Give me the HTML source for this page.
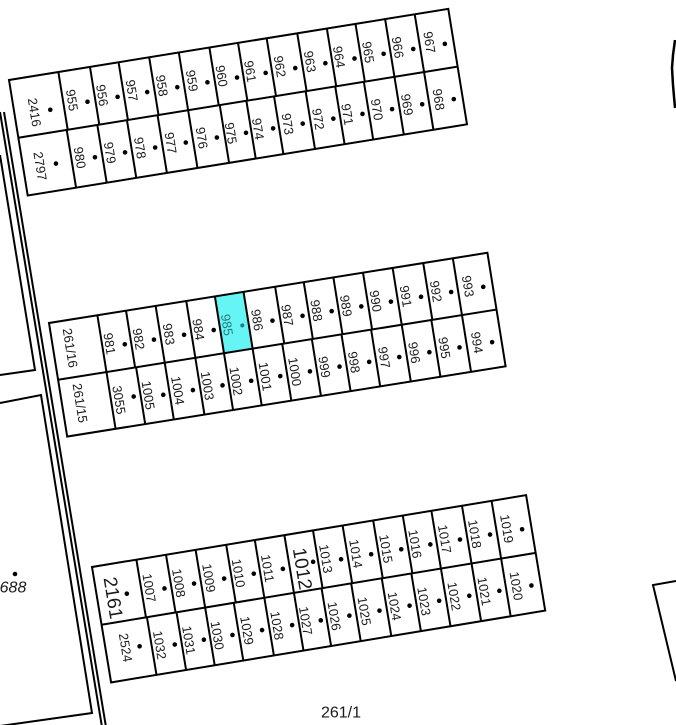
<!DOCTYPE html>
<html><head><meta charset="utf-8"><style>
html,body{margin:0;padding:0;background:#fff;}
svg{display:block;}
text{font-family:"Liberation Sans",Arial,sans-serif;font-size:13px;fill:#1a1a1a;text-anchor:middle;dominant-baseline:central;}
.c line,.c rect{stroke:#000;stroke-width:2;fill:none;}
.d{fill:#000;}
circle.d{r:2.3px;}
</style></head><body>
<svg width="676" height="725" viewBox="0 0 676 725" xmlns="http://www.w3.org/2000/svg">
<g fill="none" stroke="#000" stroke-width="2">
<polyline points="0,155 35,370 0,375"/>
<polyline points="0,403 41,395 92,713 0,726"/>
<line x1="0" y1="112" x2="102" y2="727"/>
<line x1="4" y1="112" x2="106" y2="727"/>
<path d="M675,40 L673,55 L672,68 L673,85 L675,108" stroke-width="2.5"/>
<polyline points="676,581 653,585 676,681"/>
</g>
<circle class="d" cx="15" cy="574" r="2"/>
<text x="13" y="588" style="font-size:16px;font-style:italic">688</text>
<text x="341" y="713" style="font-size:16px">261/1</text>

<!-- TOP BLOCK -->
<g class="c" transform="translate(9,80) rotate(-9.2)">
<rect x="0" y="0" width="445" height="117"/>
<line x1="0" y1="58.5" x2="445" y2="58.5"/>
<line x1="50" y1="0" x2="50" y2="58.5"/><line x1="82" y1="0" x2="82" y2="58.5"/><line x1="111" y1="0" x2="111" y2="58.5"/><line x1="142" y1="0" x2="142" y2="58.5"/><line x1="172" y1="0" x2="172" y2="58.5"/><line x1="203" y1="0" x2="203" y2="58.5"/><line x1="232" y1="0" x2="232" y2="58.5"/><line x1="261" y1="0" x2="261" y2="58.5"/><line x1="292" y1="0" x2="292" y2="58.5"/><line x1="322" y1="0" x2="322" y2="58.5"/><line x1="351" y1="0" x2="351" y2="58.5"/><line x1="381" y1="0" x2="381" y2="58.5"/><line x1="411" y1="0" x2="411" y2="58.5"/>
<line x1="49" y1="58.5" x2="49" y2="117"/><line x1="80" y1="58.5" x2="80" y2="117"/><line x1="110" y1="58.5" x2="110" y2="117"/><line x1="141" y1="58.5" x2="141" y2="117"/><line x1="172" y1="58.5" x2="172" y2="117"/><line x1="204" y1="58.5" x2="204" y2="117"/><line x1="231" y1="58.5" x2="231" y2="117"/><line x1="259" y1="58.5" x2="259" y2="117"/><line x1="291" y1="58.5" x2="291" y2="117"/><line x1="321" y1="58.5" x2="321" y2="117"/><line x1="350" y1="58.5" x2="350" y2="117"/><line x1="381" y1="58.5" x2="381" y2="117"/><line x1="411" y1="58.5" x2="411" y2="117"/>
<text x="20" y="36" transform="rotate(90 20 36)">2416</text><circle class="d" cx="36" cy="36" r="2"/>
<text x="59" y="30" transform="rotate(90 59 30)">955</text><circle class="d" cx="74" cy="34" r="2"/>
<text x="89.5" y="30" transform="rotate(90 89.5 30)">956</text><circle class="d" cx="104.5" cy="34" r="2"/>
<text x="119.5" y="30" transform="rotate(90 119.5 30)">957</text><circle class="d" cx="134.5" cy="34" r="2"/>
<text x="150" y="30" transform="rotate(90 150 30)">958</text><circle class="d" cx="165" cy="34" r="2"/>
<text x="180.5" y="30" transform="rotate(90 180.5 30)">959</text><circle class="d" cx="195.5" cy="34" r="2"/>
<text x="210.5" y="30" transform="rotate(90 210.5 30)">960</text><circle class="d" cx="225.5" cy="34" r="2"/>
<text x="239.5" y="30" transform="rotate(90 239.5 30)">961</text><circle class="d" cx="254.5" cy="34" r="2"/>
<text x="269.5" y="30" transform="rotate(90 269.5 30)">962</text><circle class="d" cx="284.5" cy="34" r="2"/>
<text x="300" y="30" transform="rotate(90 300 30)">963</text><circle class="d" cx="315" cy="34" r="2"/>
<text x="329.5" y="30" transform="rotate(90 329.5 30)">964</text><circle class="d" cx="344.5" cy="34" r="2"/>
<text x="359" y="30" transform="rotate(90 359 30)">965</text><circle class="d" cx="374" cy="34" r="2"/>
<text x="389" y="30" transform="rotate(90 389 30)">966</text><circle class="d" cx="404" cy="34" r="2"/>
<text x="421" y="30" transform="rotate(90 421 30)">967</text><circle class="d" cx="436" cy="34" r="2"/>
<text x="17" y="90" transform="rotate(90 17 90)">2797</text><circle class="d" cx="33" cy="90" r="2"/>
<text x="57.5" y="88" transform="rotate(90 57.5 88)">980</text><circle class="d" cx="72.5" cy="90" r="2"/>
<text x="88" y="88" transform="rotate(90 88 88)">979</text><circle class="d" cx="103" cy="90" r="2"/>
<text x="118.5" y="88" transform="rotate(90 118.5 88)">978</text><circle class="d" cx="133.5" cy="90" r="2"/>
<text x="149.5" y="88" transform="rotate(90 149.5 88)">977</text><circle class="d" cx="164.5" cy="90" r="2"/>
<text x="181" y="88" transform="rotate(90 181 88)">976</text><circle class="d" cx="196" cy="90" r="2"/>
<text x="210.5" y="88" transform="rotate(90 210.5 88)">975</text><circle class="d" cx="225.5" cy="90" r="2"/>
<text x="238" y="88" transform="rotate(90 238 88)">974</text><circle class="d" cx="253" cy="90" r="2"/>
<text x="268" y="88" transform="rotate(90 268 88)">973</text><circle class="d" cx="283" cy="90" r="2"/>
<text x="299" y="88" transform="rotate(90 299 88)">972</text><circle class="d" cx="314" cy="90" r="2"/>
<text x="328.5" y="88" transform="rotate(90 328.5 88)">971</text><circle class="d" cx="343.5" cy="90" r="2"/>
<text x="358.5" y="88" transform="rotate(90 358.5 88)">970</text><circle class="d" cx="373.5" cy="90" r="2"/>
<text x="389" y="88" transform="rotate(90 389 88)">969</text><circle class="d" cx="404" cy="90" r="2"/>
<text x="421" y="88" transform="rotate(90 421 88)">968</text><circle class="d" cx="436" cy="90" r="2"/>
</g>

<!-- MIDDLE BLOCK -->
<g class="c" transform="translate(49,323) rotate(-9.1)">
<rect x="168" y="0" width="29" height="57.5" style="fill:#66f5f5;stroke:none"/>
<rect x="0" y="0" width="444" height="115"/>
<line x1="0" y1="57.5" x2="444" y2="57.5"/>
<line x1="49" y1="0" x2="49" y2="57.5"/><line x1="78" y1="0" x2="78" y2="57.5"/><line x1="108" y1="0" x2="108" y2="57.5"/><line x1="139" y1="0" x2="139" y2="57.5"/><line x1="168" y1="0" x2="168" y2="57.5"/><line x1="197" y1="0" x2="197" y2="57.5"/><line x1="229" y1="0" x2="229" y2="57.5"/><line x1="258" y1="0" x2="258" y2="57.5"/><line x1="288" y1="0" x2="288" y2="57.5"/><line x1="318" y1="0" x2="318" y2="57.5"/><line x1="348" y1="0" x2="348" y2="57.5"/><line x1="379" y1="0" x2="379" y2="57.5"/><line x1="409" y1="0" x2="409" y2="57.5"/>
<line x1="49" y1="57.5" x2="49" y2="115"/><line x1="79" y1="57.5" x2="79" y2="115"/><line x1="108" y1="57.5" x2="108" y2="115"/><line x1="139" y1="57.5" x2="139" y2="115"/><line x1="168" y1="57.5" x2="168" y2="115"/><line x1="197" y1="57.5" x2="197" y2="115"/><line x1="227" y1="57.5" x2="227" y2="115"/><line x1="257" y1="57.5" x2="257" y2="115"/><line x1="287" y1="57.5" x2="287" y2="115"/><line x1="317" y1="57.5" x2="317" y2="115"/><line x1="348" y1="57.5" x2="348" y2="115"/><line x1="378" y1="57.5" x2="378" y2="115"/><line x1="409" y1="57.5" x2="409" y2="115"/>
<text x="17" y="28" transform="rotate(90 17 28)">261/16</text>
<text x="56.5" y="30" transform="rotate(90 56.5 30)">981</text><circle class="d" cx="71.5" cy="33" r="2"/>
<text x="86" y="30" transform="rotate(90 86 30)">982</text><circle class="d" cx="101" cy="33" r="2"/>
<text x="116.5" y="30" transform="rotate(90 116.5 30)">983</text><circle class="d" cx="131.5" cy="33" r="2"/>
<text x="146.5" y="30" transform="rotate(90 146.5 30)">984</text><circle class="d" cx="161.5" cy="33" r="2"/>
<text x="175.5" y="30" transform="rotate(90 175.5 30)" style="fill:#2a7a7a">985</text><circle cx="190.5" cy="33" r="2" style="fill:#2a7a7a"/>
<text x="206" y="30" transform="rotate(90 206 30)">986</text><circle class="d" cx="221" cy="33" r="2"/>
<text x="236.5" y="30" transform="rotate(90 236.5 30)">987</text><circle class="d" cx="251.5" cy="33" r="2"/>
<text x="266" y="30" transform="rotate(90 266 30)">988</text><circle class="d" cx="281" cy="33" r="2"/>
<text x="296" y="30" transform="rotate(90 296 30)">989</text><circle class="d" cx="311" cy="33" r="2"/>
<text x="326" y="30" transform="rotate(90 326 30)">990</text><circle class="d" cx="341" cy="33" r="2"/>
<text x="356.5" y="30" transform="rotate(90 356.5 30)">991</text><circle class="d" cx="371.5" cy="33" r="2"/>
<text x="387" y="30" transform="rotate(90 387 30)">992</text><circle class="d" cx="402" cy="33" r="2"/>
<text x="419.5" y="30" transform="rotate(90 419.5 30)">993</text><circle class="d" cx="434.5" cy="33" r="2"/>
<text x="18" y="84" transform="rotate(90 18 84)">261/15</text>
<text x="57" y="87" transform="rotate(90 57 87)">3055</text><circle class="d" cx="72" cy="86" r="2"/>
<text x="86.5" y="87" transform="rotate(90 86.5 87)">1005</text><circle class="d" cx="101.5" cy="89" r="2"/>
<text x="116.5" y="87" transform="rotate(90 116.5 87)">1004</text><circle class="d" cx="131.5" cy="89" r="2"/>
<text x="146.5" y="87" transform="rotate(90 146.5 87)">1003</text><circle class="d" cx="161.5" cy="89" r="2"/>
<text x="175.5" y="87" transform="rotate(90 175.5 87)">1002</text><circle class="d" cx="190.5" cy="89" r="2"/>
<text x="205" y="87" transform="rotate(90 205 87)">1001</text><circle class="d" cx="220" cy="89" r="2"/>
<text x="235" y="87" transform="rotate(90 235 87)">1000</text><circle class="d" cx="250" cy="89" r="2"/>
<text x="265" y="87" transform="rotate(90 265 87)">999</text><circle class="d" cx="280" cy="89" r="2"/>
<text x="295" y="87" transform="rotate(90 295 87)">998</text><circle class="d" cx="310" cy="89" r="2"/>
<text x="325.5" y="87" transform="rotate(90 325.5 87)">997</text><circle class="d" cx="340.5" cy="89" r="2"/>
<text x="356" y="87" transform="rotate(90 356 87)">996</text><circle class="d" cx="371" cy="89" r="2"/>
<text x="386.5" y="87" transform="rotate(90 386.5 87)">995</text><circle class="d" cx="401.5" cy="89" r="2"/>
<text x="419.5" y="87" transform="rotate(90 419.5 87)">994</text><circle class="d" cx="434.5" cy="89" r="2"/>
</g>

<!-- BOTTOM BLOCK -->
<g class="c" transform="translate(92,567) rotate(-9.4)">
<rect x="0" y="0" width="440" height="117"/>
<line x1="0" y1="58.5" x2="440" y2="58.5"/>
<line x1="45" y1="0" x2="45" y2="58.5"/><line x1="75" y1="0" x2="75" y2="58.5"/><line x1="105" y1="0" x2="105" y2="58.5"/><line x1="136" y1="0" x2="136" y2="58.5"/><line x1="165" y1="0" x2="165" y2="58.5"/><line x1="195" y1="0" x2="195" y2="58.5"/><line x1="224" y1="0" x2="224" y2="58.5"/><line x1="254" y1="0" x2="254" y2="58.5"/><line x1="285" y1="0" x2="285" y2="58.5"/><line x1="315" y1="0" x2="315" y2="58.5"/><line x1="344" y1="0" x2="344" y2="58.5"/><line x1="375" y1="0" x2="375" y2="58.5"/><line x1="405" y1="0" x2="405" y2="58.5"/>
<line x1="46" y1="58.5" x2="46" y2="117"/><line x1="76" y1="58.5" x2="76" y2="117"/><line x1="105" y1="58.5" x2="105" y2="117"/><line x1="134" y1="58.5" x2="134" y2="117"/><line x1="165" y1="58.5" x2="165" y2="117"/><line x1="195" y1="58.5" x2="195" y2="117"/><line x1="223" y1="58.5" x2="223" y2="117"/><line x1="253" y1="58.5" x2="253" y2="117"/><line x1="284" y1="58.5" x2="284" y2="117"/><line x1="314" y1="58.5" x2="314" y2="117"/><line x1="344" y1="58.5" x2="344" y2="117"/><line x1="375" y1="58.5" x2="375" y2="117"/><line x1="405" y1="58.5" x2="405" y2="117"/>
<text x="15" y="34" transform="rotate(90 15 34)" style="font-size:19px">2161</text><circle class="d" cx="30" cy="32" r="2"/>
<text x="53" y="30" transform="rotate(90 53 30)">1007</text><circle class="d" cx="68" cy="33" r="2"/>
<text x="83" y="30" transform="rotate(90 83 30)">1008</text><circle class="d" cx="98" cy="33" r="2"/>
<text x="113.5" y="30" transform="rotate(90 113.5 30)">1009</text><circle class="d" cx="128.5" cy="33" r="2"/>
<text x="143.5" y="30" transform="rotate(90 143.5 30)">1010</text><circle class="d" cx="158.5" cy="33" r="2"/>
<text x="173" y="30" transform="rotate(90 173 30)">1011</text><circle class="d" cx="188" cy="33" r="2"/>
<text x="206.5" y="36" transform="rotate(90 206.5 36)" style="font-size:19px">1012</text><circle class="d" cx="219" cy="31" r="2"/>
<text x="232" y="30" transform="rotate(90 232 30)">1013</text><circle class="d" cx="247" cy="33" r="2"/>
<text x="262.5" y="30" transform="rotate(90 262.5 30)">1014</text><circle class="d" cx="277.5" cy="33" r="2"/>
<text x="293" y="30" transform="rotate(90 293 30)">1015</text><circle class="d" cx="308" cy="33" r="2"/>
<text x="322.5" y="30" transform="rotate(90 322.5 30)">1016</text><circle class="d" cx="337.5" cy="33" r="2"/>
<text x="352.5" y="30" transform="rotate(90 352.5 30)">1017</text><circle class="d" cx="367.5" cy="33" r="2"/>
<text x="383" y="30" transform="rotate(90 383 30)">1018</text><circle class="d" cx="398" cy="33" r="2"/>
<text x="415.5" y="30" transform="rotate(90 415.5 30)">1019</text><circle class="d" cx="430.5" cy="33" r="2"/>
<text x="20" y="85" transform="rotate(90 20 85)">2524</text><circle class="d" cx="34" cy="86" r="2"/>
<text x="54" y="88" transform="rotate(90 54 88)">1032</text><circle class="d" cx="69" cy="90" r="2"/>
<text x="83.5" y="88" transform="rotate(90 83.5 88)">1031</text><circle class="d" cx="98.5" cy="90" r="2"/>
<text x="112.5" y="88" transform="rotate(90 112.5 88)">1030</text><circle class="d" cx="127.5" cy="90" r="2"/>
<text x="142.5" y="88" transform="rotate(90 142.5 88)">1029</text><circle class="d" cx="157.5" cy="90" r="2"/>
<text x="173" y="88" transform="rotate(90 173 88)">1028</text><circle class="d" cx="188" cy="90" r="2"/>
<text x="202" y="88" transform="rotate(90 202 88)">1027</text><circle class="d" cx="217" cy="90" r="2"/>
<text x="231" y="88" transform="rotate(90 231 88)">1026</text><circle class="d" cx="246" cy="90" r="2"/>
<text x="261.5" y="88" transform="rotate(90 261.5 88)">1025</text><circle class="d" cx="276.5" cy="90" r="2"/>
<text x="292" y="88" transform="rotate(90 292 88)">1024</text><circle class="d" cx="307" cy="90" r="2"/>
<text x="322" y="88" transform="rotate(90 322 88)">1023</text><circle class="d" cx="337" cy="90" r="2"/>
<text x="352.5" y="88" transform="rotate(90 352.5 88)">1022</text><circle class="d" cx="367.5" cy="90" r="2"/>
<text x="383" y="88" transform="rotate(90 383 88)">1021</text><circle class="d" cx="398" cy="90" r="2"/>
<text x="415.5" y="88" transform="rotate(90 415.5 88)">1020</text><circle class="d" cx="430.5" cy="90" r="2"/>
</g>
</svg>
</body></html>
